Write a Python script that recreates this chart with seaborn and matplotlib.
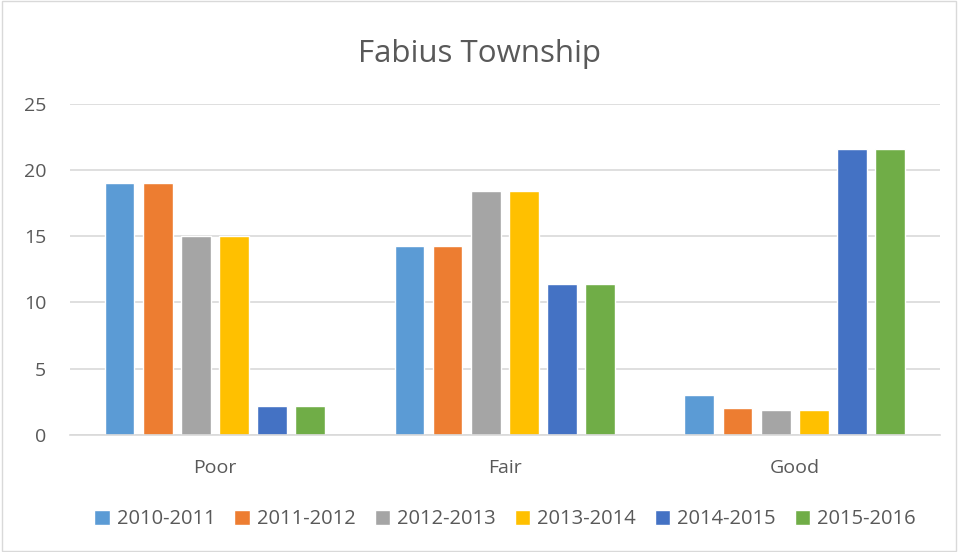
import pandas as pd
import matplotlib
matplotlib.use("Agg")
import matplotlib.pyplot as plt
import seaborn as sns
from matplotlib.patches import Rectangle

# data
conditions = ["Poor", "Fair", "Good"]
seasons = ["2010-2011", "2011-2012", "2012-2013", "2013-2014", "2014-2015", "2015-2016"]
y2010 = [19.0, 14.3, 3.0]
y2011 = [19.0, 14.3, 2.0]
y2012 = [15.0, 18.4, 1.9]
y2013 = [15.0, 18.4, 1.9]
y2014 = [2.2, 11.4, 21.6]
y2015 = [2.2, 11.4, 21.6]
colors = ["#5B9BD5", "#ED7D31", "#A5A5A5", "#FFC000", "#4472C4", "#70AD47"]

rows = []
for season, vals in zip(seasons, [y2010, y2011, y2012, y2013, y2014, y2015]):
    for cond, v in zip(conditions, vals):
        rows.append({"Condition": cond, "Season": season, "Value": v})
df = pd.DataFrame(rows)

sns.set_style("white")
plt.rcParams["font.family"] = ["Open Sans", "DejaVu Sans"]
text_col = "#595959"

fig = plt.figure(figsize=(9.58, 5.52), dpi=100)
ax = fig.add_axes([0.073, 0.212, 0.908, 0.6])

sns.barplot(data=df, x="Condition", y="Value", hue="Season", order=conditions,
            hue_order=seasons, palette=colors, width=0.79, gap=0.22,
            saturation=1, ax=ax)

ax.set_ylim(0, 25)
ax.set_xlim(-0.5, 2.5)
ax.set_yticks(range(0, 26, 5))
ax.yaxis.grid(True, color="#d9d9d9", linewidth=1.2)
ax.set_axisbelow(True)
ax.set_xlabel("")
ax.set_ylabel("")
for s in ["top", "right", "left"]:
    ax.spines[s].set_visible(False)
ax.spines["bottom"].set_color("#d9d9d9")
ax.spines["bottom"].set_linewidth(1.2)
ax.tick_params(axis="both", length=0, labelsize=14, colors=text_col)
ax.tick_params(axis="x", pad=17)
ax.tick_params(axis="y", pad=17)

fig.suptitle("Fabius Township", fontsize=22.5, color=text_col, y=0.93)

leg = ax.legend(loc="center", bbox_to_anchor=(0.5, -0.255), ncol=6, frameon=False,
                fontsize=14.5, handlelength=0.75, handleheight=0.75, handletextpad=0.35,
                columnspacing=0.95)
for t in leg.get_texts():
    t.set_color(text_col)

fig.patches.append(Rectangle((0.002, 0.002), 0.996, 0.996, transform=fig.transFigure,
                             fill=False, edgecolor="#d9d9d9", linewidth=1))

fig.savefig("out.png", dpi=100)
